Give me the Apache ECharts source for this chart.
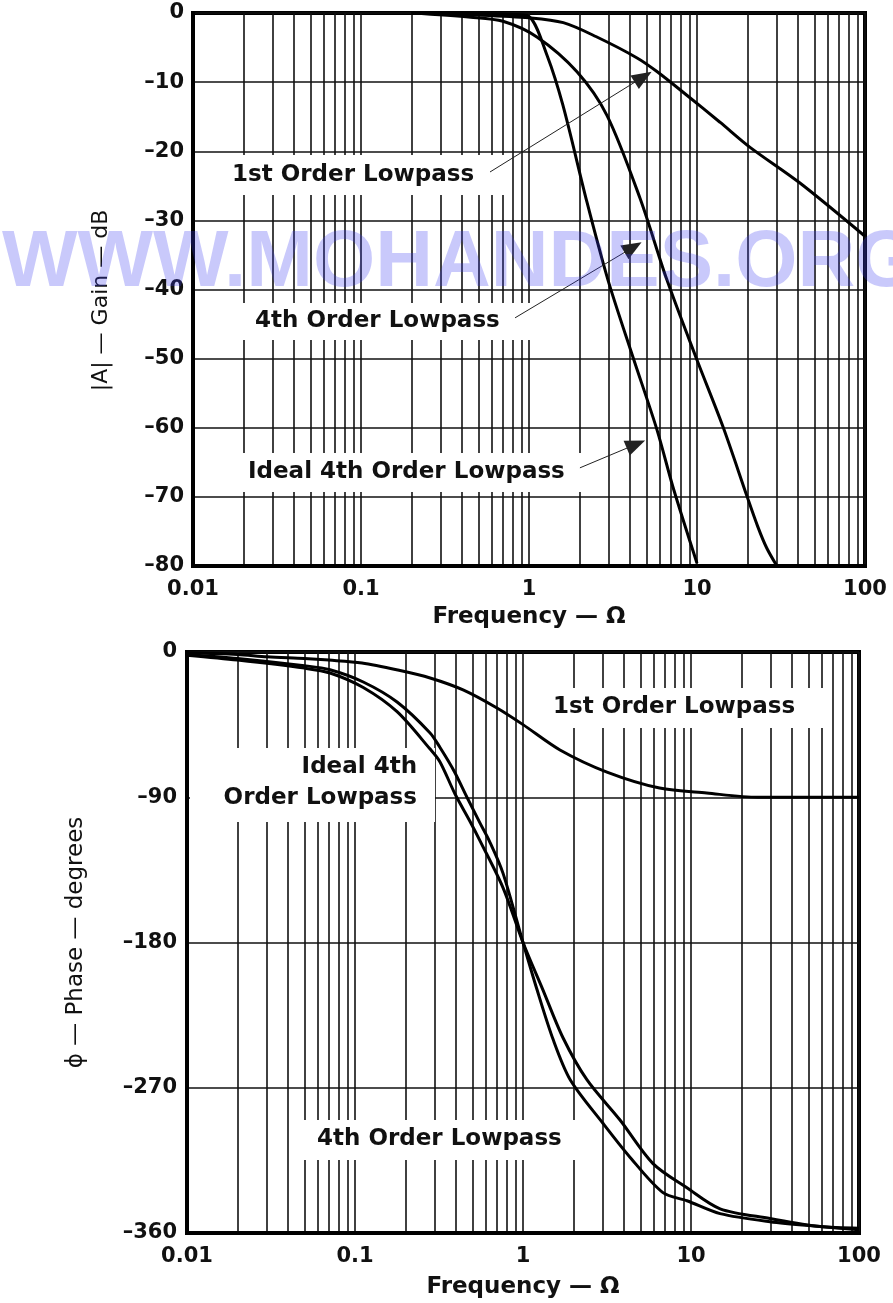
<!DOCTYPE html>
<html>
<head>
<meta charset="utf-8">
<title>Lowpass gain and phase</title>
<script src="https://cdn.jsdelivr.net/npm/echarts@6/dist/echarts.min.js"></script>
<style>
  html, body { margin: 0; padding: 0; background: #fff; }
  #main { width: 893px; height: 1303px; }
</style>
</head>
<body>
<div id="main"></div>
<script>
// x axis (both plots)
var decadeTicks = [0.01, 0.1, 1, 10, 100];
var decadeLabels = ['0.01', '0.1', '1', '10', '100'];

// top plot: gain in dB
var gain1stFreq = [0.2, 0.5, 1.0, 1.6, 2.5, 4.4, 5.8, 8.7, 13.7, 20.6, 41, 100];
var gain1stDb   = [0, -0.3, -0.7, -1.4, -3.4, -6.5, -8.5, -11.9, -15.8, -19.4, -24.6, -32.3];

var gain4thFreq = [0.2, 0.45, 0.7, 1.12, 1.93, 2.91, 4.58, 6.62, 10, 14.3, 19.9, 23, 26, 29.9];
var gain4thDb   = [0, -0.6, -1.2, -3.5, -8.5, -14.8, -26.8, -38.6, -50.2, -59.9, -70.0, -74.3, -77.4, -80];

var gainIdealFreq = [0.2, 0.5, 0.8, 1.0, 1.28, 1.59, 2.21, 2.95, 4.16, 5.78, 7.2, 10];
var gainIdealDb   = [0, -0.1, -0.2, -0.5, -6.1, -13.3, -27.3, -38.6, -49.8, -60.3, -68.6, -79.6];

// bottom plot: phase in degrees
var phase1stFreq = [0.01, 0.02, 0.03, 0.05, 0.07, 0.11, 0.18, 0.28, 0.44, 0.7, 1.0, 1.66, 3.16, 6.5, 12.4, 25, 100];
var phase1stDeg  = [-0.5, -1.5, -3, -4, -5, -6.8, -11.2, -16.1, -23.5, -34.7, -45, -60.7, -74.4, -84.3, -87.4, -90, -90];

var phase4thFreq = [0.01, 0.02, 0.05, 0.071, 0.112, 0.178, 0.279, 0.32, 0.394, 0.484, 0.555, 0.76, 1.0, 1.31, 1.73, 2.4, 3.78, 5.94, 9.46, 14.9, 29.5, 58.6, 100];
var phase4thDeg  = [-2, -5, -10, -13, -22, -37, -60, -68, -88, -105, -117, -146, -180, -209, -239, -265, -290, -317, -332, -345, -351, -356, -357];

var phaseIdealFreq = [0.01, 0.02, 0.05, 0.071, 0.112, 0.178, 0.279, 0.32, 0.39, 0.464, 0.555, 0.63, 0.76, 1.0, 1.21, 1.51, 1.91, 2.99, 4.33, 6.81, 9.46, 14.9, 29.5, 58.6, 100];
var phaseIdealDeg  = [-1.5, -4, -8.5, -11, -18.6, -31, -50, -59, -74, -90, -106, -117, -137, -180, -209, -240, -265, -292, -313, -335, -340, -348, -353, -356, -358];

// vertical grid lines at 1..9 of every decade
var gridFreqs = [];
for (var d = -2; d < 2; d++) {
    for (var m = 1; m < 10; m++) {
        gridFreqs.push(+(m * Math.pow(10, d)).toPrecision(3));
    }
}
gridFreqs.push(100);

function pairs(xs, ys) {
    return xs.map(function (x, i) { return [x, ys[i]]; });
}

var FONT = 'DejaVu Sans';
var gridLine = { show: true, lineStyle: { color: '#111', width: 1.6 } };
var tickText = { fontFamily: FONT, fontWeight: 'bold', fontSize: 21, color: '#111' };

function dashNum(v) {
    return v === 0 ? '0' : '\u2013' + Math.abs(v);
}

function freqAxis(gi, gap) {
    return {
        type: 'log', logBase: 10, min: 0.01, max: 100, gridIndex: gi,
        name: 'Frequency \u2014 \u03A9', nameLocation: 'middle', nameGap: gap,
        nameTextStyle: { fontFamily: FONT, fontWeight: 'bold', fontSize: 23, color: '#111' },
        axisLine: { show: true, onZero: false, lineStyle: { color: '#000', width: 4 } },
        axisTick: { show: false, customValues: gridFreqs },
        axisLabel: Object.assign({
            customValues: decadeTicks, margin: 13,
            formatter: function (v) { return decadeLabels[Math.round(Math.log10(v)) + 2]; }
        }, tickText),
        splitLine: gridLine
    };
}

function arrow(from, to) {
    return {
        silent: true, animation: false,
        symbol: ['none', 'triangle'], symbolSize: [16, 20],
        lineStyle: { color: '#222', width: 1, type: 'solid' },
        label: { show: false },
        emphasis: { disabled: true },
        data: [[{ coord: from }, { coord: to }]]
    };
}

function curve(name, xi, xs, ys, mark) {
    var s = {
        name: name, type: 'line', xAxisIndex: xi, yAxisIndex: xi,
        data: pairs(xs, ys), showSymbol: false,
        smooth: 0.3,
        lineStyle: { color: '#000', width: 3 }
    };
    if (mark) s.markLine = mark;
    return s;
}

function box(x, y, w, h) {
    return { type: 'rect', z: 3, shape: { x: x, y: y, width: w, height: h }, style: { fill: '#fff' } };
}
function label(text, x, y, align) {
    return {
        type: 'text', z: 4, x: x, y: y,
        style: {
            text: text, font: 'bold 23px "DejaVu Sans"', fill: '#111',
            align: align || 'left', verticalAlign: 'middle', lineHeight: 31
        }
    };
}

var chart = echarts.init(document.getElementById('main'));

var option = {
    animation: false,
    backgroundColor: '#fff',
    grid: [
        { left: 193, top: 13, width: 672, height: 553, show: true, borderColor: '#000', borderWidth: 4 },
        { left: 187, top: 652, width: 672, height: 581, show: true, borderColor: '#000', borderWidth: 4 }
    ],
    xAxis: [freqAxis(0, 40), freqAxis(1, 43)],
    yAxis: [
        {
            type: 'value', gridIndex: 0, min: -80, max: 0, interval: 10,
            name: '|A| \u2014 Gain \u2014 dB', nameLocation: 'middle', nameGap: 81, nameRotate: 90,
            nameTextStyle: { fontFamily: FONT, fontSize: 22, color: '#111', padding: [0, 22, 0, 0] },
            axisLine: { show: true, lineStyle: { color: '#000', width: 4 } },
            axisTick: { show: false },
            axisLabel: Object.assign({ margin: 9, formatter: dashNum }, tickText),
            splitLine: gridLine
        },
        {
            type: 'value', gridIndex: 1, min: -360, max: 0, interval: 90,
            name: '\u03D5 \u2014 Phase \u2014 degrees', nameLocation: 'middle', nameGap: 99, nameRotate: 90,
            nameTextStyle: { fontFamily: FONT, fontSize: 23, color: '#111' },
            axisLine: { show: true, lineStyle: { color: '#000', width: 4 } },
            axisTick: { show: false },
            axisLabel: Object.assign({ margin: 10, formatter: dashNum }, tickText),
            splitLine: gridLine
        }
    ],
    series: [
        curve('1st Order Lowpass', 0, gain1stFreq, gain1stDb, arrow([0.586, -23.0], [4.78, -9.26])),
        curve('4th Order Lowpass', 0, gain4thFreq, gain4thDb, arrow([0.826, -44.1], [4.16, -33.9])),
        curve('Ideal 4th Order Lowpass', 0, gainIdealFreq, gainIdealDb, arrow([2.01, -65.8], [4.33, -62.4])),
        curve('1st Order Lowpass', 1, phase1stFreq, phase1stDeg),
        curve('4th Order Lowpass', 1, phase4thFreq, phase4thDeg),
        curve('Ideal 4th Order Lowpass', 1, phaseIdealFreq, phaseIdealDeg)
    ],
    graphic: [
        // top plot labels
        box(225, 155, 283, 40), label('1st Order Lowpass', 232, 175),
        box(238, 303, 297, 37), label('4th Order Lowpass', 255, 321),
        box(238, 453, 350, 39), label('Ideal 4th Order Lowpass', 248, 472),
        // bottom plot labels
        box(545, 688, 285, 40), label('1st Order Lowpass', 553, 707),
        box(190, 748, 245, 74), label('Ideal 4th\nOrder Lowpass', 417, 783, 'right'),
        box(300, 1120, 285, 40), label('4th Order Lowpass', 317, 1139),
        // watermark
        {
            type: 'text', z: 100, x: 2, y: 264,
            style: {
                text: 'WWW.MOHANDES.ORG', font: 'bold 80px "Liberation Sans"',
                fill: 'rgba(60,60,240,0.28)', verticalAlign: 'middle'
            }
        }
    ]
};

chart.setOption(option);
</script>
</body>
</html>
